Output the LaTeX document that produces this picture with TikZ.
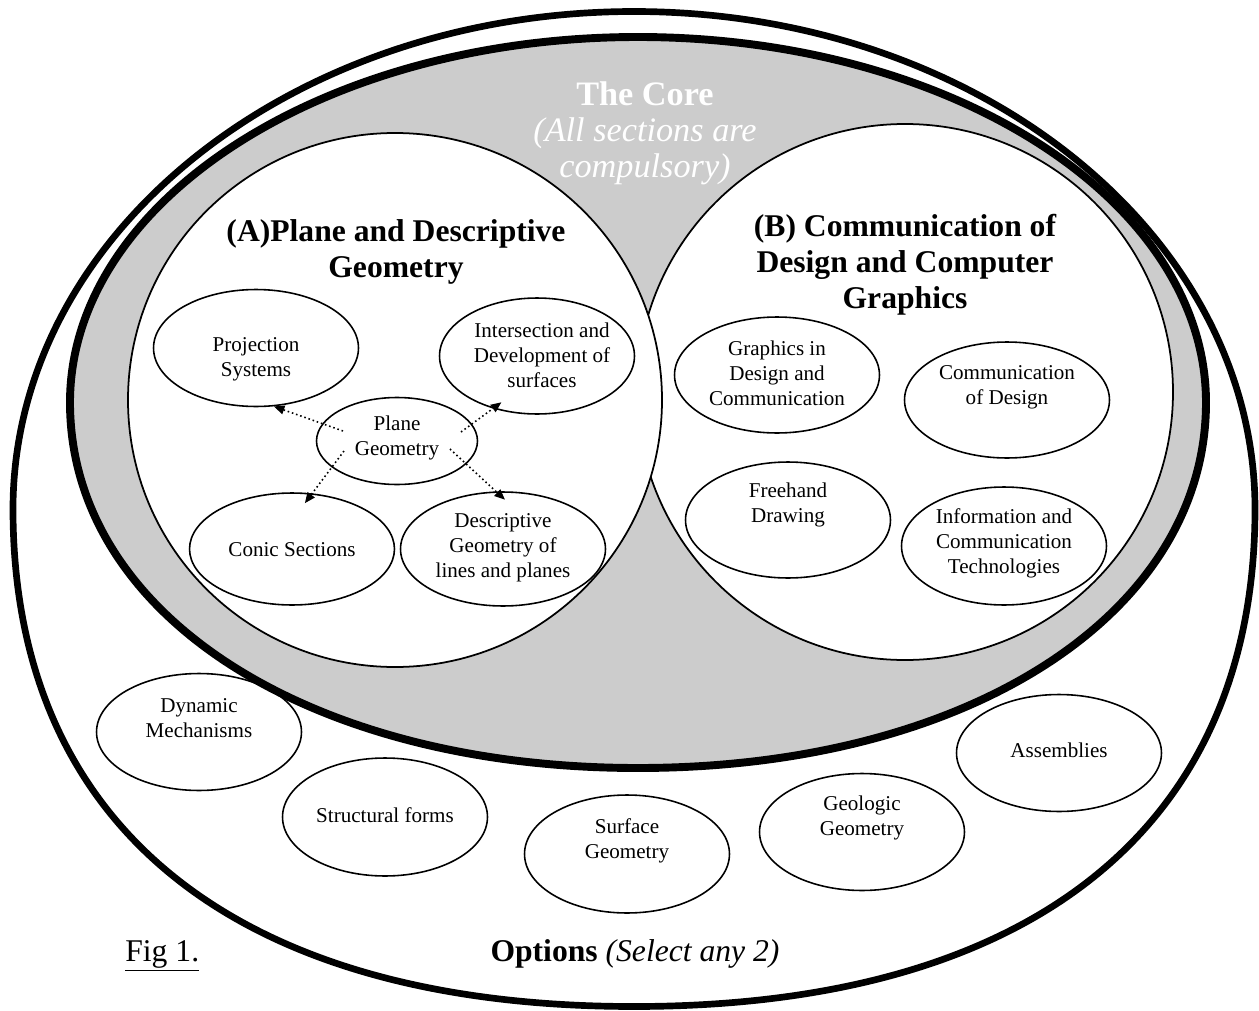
\documentclass[tikz,border=0pt]{standalone}
\usepackage{fontspec}
\setmainfont{Liberation Serif}
\usetikzlibrary{shapes.geometric,arrows.meta}
\definecolor{coregray}{HTML}{CCCCCC}
\tikzset{
  bub/.style={draw, ellipse, line width=0.9pt, inner sep=0pt,
    minimum width=4.1cm, minimum height=2.32cm},
  txt/.style={align=center, inner sep=0pt, font=\fontsize{12}{14.2}\selectfont},
  head/.style={align=center, inner sep=0pt, font=\fontsize{18}{20.5}\selectfont\bfseries},
  dots/.style={line width=0.9pt, dash pattern=on 0.9pt off 1.6pt,
    -{Triangle[length=6pt,width=5pt]}}
}
\begin{document}
\begin{tikzpicture}[x=0.02cm, y=-0.02cm]
  \useasboundingbox (0,0) rectangle (1259,1011);
  % options ring
  \draw[line width=3.8pt] (13,509) .. controls (13,234.2) and (291,11.5) .. (634,11.5)
    .. controls (977,11.5) and (1255,234.2) .. (1255,509)
    .. controls (1255,827.4) and (1031.4,1006.5) .. (634,1006.5)
    .. controls (236.6,1006.5) and (13,827.4) .. (13,509) -- cycle;
  % the core
  \draw[line width=4.5pt, fill=coregray] (70,402.5) .. controls (70,200.6) and (324.3,37) .. (638,37)
    .. controls (951.7,37) and (1206,200.6) .. (1206,402.5)
    .. controls (1206,614.5) and (967.4,768) .. (638,768)
    .. controls (308.6,768) and (70,614.5) .. (70,402.5) -- cycle;
  \draw[line width=1pt, fill=white] (905,392) circle [radius=268];
  \draw[line width=1pt, fill=white] (395,400) circle [radius=267];

  \node[align=center, inner sep=0pt, text=white, font=\fontsize{19.5}{20.5}\selectfont] (core) at (645,133)
    {\textbf{The Core}\\\textit{(All sections are}\\\textit{compulsory)}};
  \node[head] (secA) at (396,252) {(A)Plane and Descriptive\\Geometry};
  \node[head] (secB) at (905,265) {(B) Communication of\\Design and Computer\\Graphics};

  % section A
  \node[bub, minimum height=2.34cm] (proj) at (256,348) {};
  \node[bub, minimum width=3.9cm] (inter) at (537,356) {};
  \node[bub, minimum width=3.22cm, minimum height=1.74cm] (pg) at (397,441) {};
  \node[bub, minimum height=2.24cm] (conic) at (292,549) {};
  \node[bub, minimum height=2.28cm] (desc) at (503,549) {};
  \node[txt] (projt) at (256,359) {Projection\\Systems};
  \node[txt] (intert) at (542,355) {Intersection and\\Development of\\surfaces};
  \node[txt] (pgt) at (397,438) {Plane\\Geometry};
  \node[txt] (conict) at (292,550) {Conic Sections};
  \node[txt] (desct) at (503,548) {Descriptive\\Geometry of\\lines and planes};

  \draw[dots] ([shift={(-54,-10)}]pg.center) -- (proj.287);
  \draw[dots, shorten >=-6pt] ([shift={(64,-9)}]pg.center) -- (inter.230);
  \draw[dots, shorten >=-7pt] ([shift={(-53,10)}]pg.center) -- (conic.70);
  \draw[dots, shorten >=-7pt] ([shift={(53,8)}]pg.center) -- (desc.97);

  % section B
  \node[bub] (gdc) at (777,375) {};
  \node[bub] (cod) at (1007,400) {};
  \node[bub] (free) at (788,520) {};
  \node[bub, minimum height=2.36cm] (ict) at (1004,546) {};
  \node[txt] (gdct) at (777,373) {Graphics in\\Design and\\Communication};
  \node[txt] (codt) at (1007,387) {Communication\\of Design};
  \node[txt] (freet) at (788,505) {Freehand\\Drawing};
  \node[txt] (ictt) at (1004,543) {Information and\\Communication\\Technologies};

  % options
  \node[bub, minimum height=2.34cm] (dyn) at (199,732) {};
  \node[bub, minimum height=2.36cm] (struc) at (385,817) {};
  \node[bub, minimum height=2.36cm] (surf) at (627,854) {};
  \node[bub, minimum height=2.34cm] (geo) at (862,832) {};
  \node[bub, minimum height=2.34cm] (ass) at (1059,753) {};
  \node[txt] (dynt) at (199,718) {Dynamic\\Mechanisms};
  \node[txt] (struct) at (385,815) {Structural forms};
  \node[txt] (surft) at (627,841) {Surface\\Geometry};
  \node[txt] (geot) at (862,818) {Geologic\\Geometry};
  \node[txt] (asst) at (1059,750) {Assemblies};

  \node[anchor=base, inner sep=0pt, font=\fontsize{18}{20}\selectfont] (opts) at (635,961)
    {\textbf{Options} \textit{(Select any 2)}};
  \node[anchor=base west, inner sep=0pt, font=\fontsize{18}{20}\selectfont] (fig) at (125,961)
    {\underline{Fig 1.}};
\end{tikzpicture}
\end{document}
